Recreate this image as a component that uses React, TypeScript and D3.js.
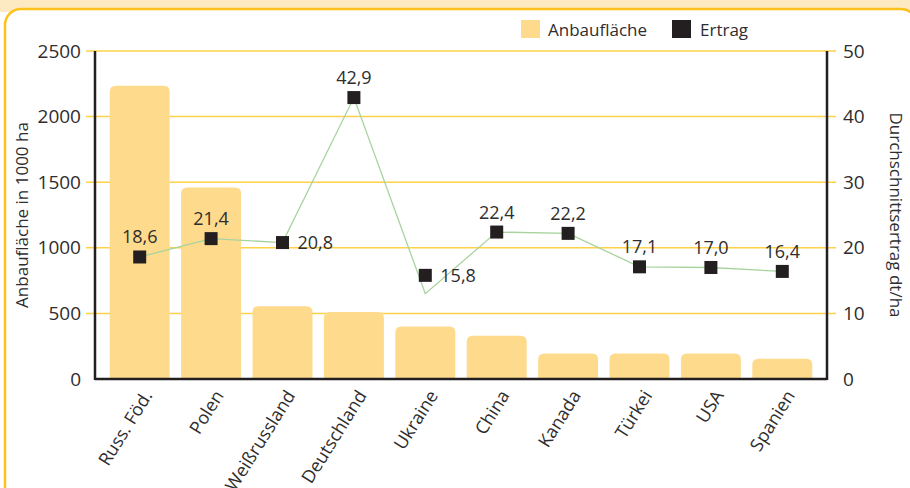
import React, { useEffect, useRef } from "react";
import * as d3 from "d3";

const countries = ["Russ. Föd.", "Polen", "Weißrussland", "Deutschland", "Ukraine", "China", "Kanada", "Türkei", "USA", "Spanien"];
const anbauflaeche = [2235, 1460, 555, 510, 400, 330, 195, 195, 195, 155];
const ertrag = [18.6, 21.4, 20.8, 42.9, 15.8, 22.4, 22.2, 17.1, 17.0, 16.4];
const ertragLinie = [18.6, 21.4, 20.8, 42.9, 13.0, 22.4, 22.2, 17.1, 17.0, 16.4];
const labelSide = ["top", "top", "right", "top", "right", "top", "top", "top", "top", "top"];
const leftTicks = [0, 500, 1000, 1500, 2000, 2500];
const rightTicks = [0, 10, 20, 30, 40, 50];

const App = () => {
  const svgRef = useRef<SVGSVGElement>(null);

  useEffect(() => {
    const svg = d3.select(svgRef.current);
    svg.selectAll("*").remove();

    const width = 910;
    const height = 488;
    const margin = { top: 51, right: 83, bottom: 109, left: 95 };
    const font = "'Open Sans', sans-serif";
    const textColor = "#2f2d2e";

    // frame
    svg.append("rect").attr("x", 0).attr("y", 0).attr("width", width).attr("height", 12).attr("fill", "#fdeac2");
    svg.append("rect")
      .attr("x", 5).attr("y", 9).attr("width", 912).attr("height", 500)
      .attr("rx", 16).attr("fill", "#fff")
      .attr("stroke", "#fcc21b").attr("stroke-width", 2.5);

    const x = d3.scaleBand()
      .domain(countries)
      .range([margin.left + 9, width - margin.right - 9])
      .paddingInner(0.16)
      .paddingOuter(0.08);

    const yLeft = d3.scaleLinear().domain([0, 2500]).range([height - margin.bottom, margin.top]);
    const yRight = d3.scaleLinear().domain([0, 50]).range([height - margin.bottom, margin.top]);

    // gridlines
    svg.append("g")
      .selectAll("line")
      .data(leftTicks.filter(d => d > 0))
      .enter()
      .append("line")
      .attr("x1", margin.left - 9)
      .attr("x2", width - margin.right + 9)
      .attr("y1", d => yLeft(d))
      .attr("y2", d => yLeft(d))
      .attr("stroke", "#fdd247")
      .attr("stroke-width", 1.5);

    // bars with rounded tops
    const barPath = (x0: number, w: number, yTop: number, yBot: number) => {
      const r = Math.min(6, (yBot - yTop) / 2);
      return `M${x0},${yBot}V${yTop + r}Q${x0},${yTop} ${x0 + r},${yTop}H${x0 + w - r}Q${x0 + w},${yTop} ${x0 + w},${yTop + r}V${yBot}Z`;
    };
    svg.append("g")
      .selectAll("path")
      .data(countries)
      .enter()
      .append("path")
      .attr("d", (d, i) => barPath(x(d)!, x.bandwidth(), yLeft(anbauflaeche[i]), yLeft(0)))
      .attr("fill", "#fedb8c");

    // axes lines
    const axisG = svg.append("g").attr("stroke", "#231f20").attr("stroke-width", 2.5);
    axisG.append("line").attr("x1", margin.left).attr("x2", margin.left).attr("y1", margin.top).attr("y2", yLeft(0) + 1);
    axisG.append("line").attr("x1", width - margin.right).attr("x2", width - margin.right).attr("y1", margin.top).attr("y2", yLeft(0) + 1);
    axisG.append("line").attr("x1", margin.left).attr("x2", width - margin.right).attr("y1", yLeft(0)).attr("y2", yLeft(0));

    // tick labels
    svg.append("g")
      .selectAll("text")
      .data(leftTicks)
      .enter()
      .append("text")
      .attr("x", margin.left - 14)
      .attr("y", d => yLeft(d))
      .attr("dy", "0.35em")
      .attr("text-anchor", "end")
      .attr("font-family", font)
      .attr("font-size", 19)
      .attr("fill", textColor)
      .text(d => d);

    svg.append("g")
      .selectAll("text")
      .data(rightTicks)
      .enter()
      .append("text")
      .attr("x", width - margin.right + 16)
      .attr("y", d => yRight(d))
      .attr("dy", "0.35em")
      .attr("text-anchor", "start")
      .attr("font-family", font)
      .attr("font-size", 19)
      .attr("fill", textColor)
      .text(d => d);

    // axis titles
    const midY = (margin.top + height - margin.bottom) / 2;
    svg.append("text")
      .attr("transform", `translate(28,${midY}) rotate(-90)`)
      .attr("text-anchor", "middle")
      .attr("font-family", font)
      .attr("font-size", 17)
      .attr("fill", textColor)
      .text("Anbaufläche in 1000 ha");
    svg.append("text")
      .attr("transform", `translate(890,${midY}) rotate(90)`)
      .attr("text-anchor", "middle")
      .attr("font-family", font)
      .attr("font-size", 17)
      .attr("fill", textColor)
      .text("Durchschnittsertrag dt/ha");

    // x labels
    svg.append("g")
      .selectAll("text")
      .data(countries)
      .enter()
      .append("text")
      .attr("transform", d => `translate(${x(d)! + x.bandwidth() / 2 + 8},${yLeft(0) + 13}) rotate(-58)`)
      .attr("text-anchor", "end")
      .attr("dy", "0.35em")
      .attr("font-family", font)
      .attr("font-size", 18)
      .attr("fill", textColor)
      .text(d => d);

    // line
    const line = d3.line<number>()
      .x((d, i) => x(countries[i])! + x.bandwidth() / 2)
      .y(d => yRight(d));
    svg.append("path")
      .datum(ertragLinie)
      .attr("fill", "none")
      .attr("stroke", "#a8d39e")
      .attr("stroke-width", 1.3)
      .attr("d", line);

    // markers
    const size = 13;
    svg.append("g")
      .selectAll("rect")
      .data(ertrag)
      .enter()
      .append("rect")
      .attr("x", (d, i) => x(countries[i])! + x.bandwidth() / 2 - size / 2)
      .attr("y", d => yRight(d) - size / 2)
      .attr("width", size)
      .attr("height", size)
      .attr("fill", "#231f20");

    // value labels
    svg.append("g")
      .selectAll("text")
      .data(ertrag)
      .enter()
      .append("text")
      .attr("x", (d, i) => x(countries[i])! + x.bandwidth() / 2 + (labelSide[i] === "right" ? 15 : 0))
      .attr("y", d => yRight(d))
      .attr("dy", (d, i) => (labelSide[i] === "right" ? "0.35em" : "-0.75em"))
      .attr("text-anchor", (d, i) => (labelSide[i] === "right" ? "start" : "middle"))
      .attr("font-family", font)
      .attr("font-size", 18)
      .attr("fill", textColor)
      .text(d => d.toFixed(1).replace(".", ","));

    // legend
    const legend = svg.append("g").attr("font-family", font).attr("font-size", 17).attr("fill", textColor);
    legend.append("rect").attr("x", 521).attr("y", 20).attr("width", 19).attr("height", 18).attr("fill", "#fedb8c");
    legend.append("text").attr("x", 548).attr("y", 36).text("Anbaufläche");
    legend.append("rect").attr("x", 672).attr("y", 20).attr("width", 19).attr("height", 18).attr("fill", "#231f20");
    legend.append("text").attr("x", 700).attr("y", 36).text("Ertrag");
  }, []);

  return (
    <svg
      ref={svgRef}
      width={910}
      height={488}
      style={{ position: "absolute", left: 0, top: 0, background: "#fff" }}
    ></svg>
  );
};

export default App;
